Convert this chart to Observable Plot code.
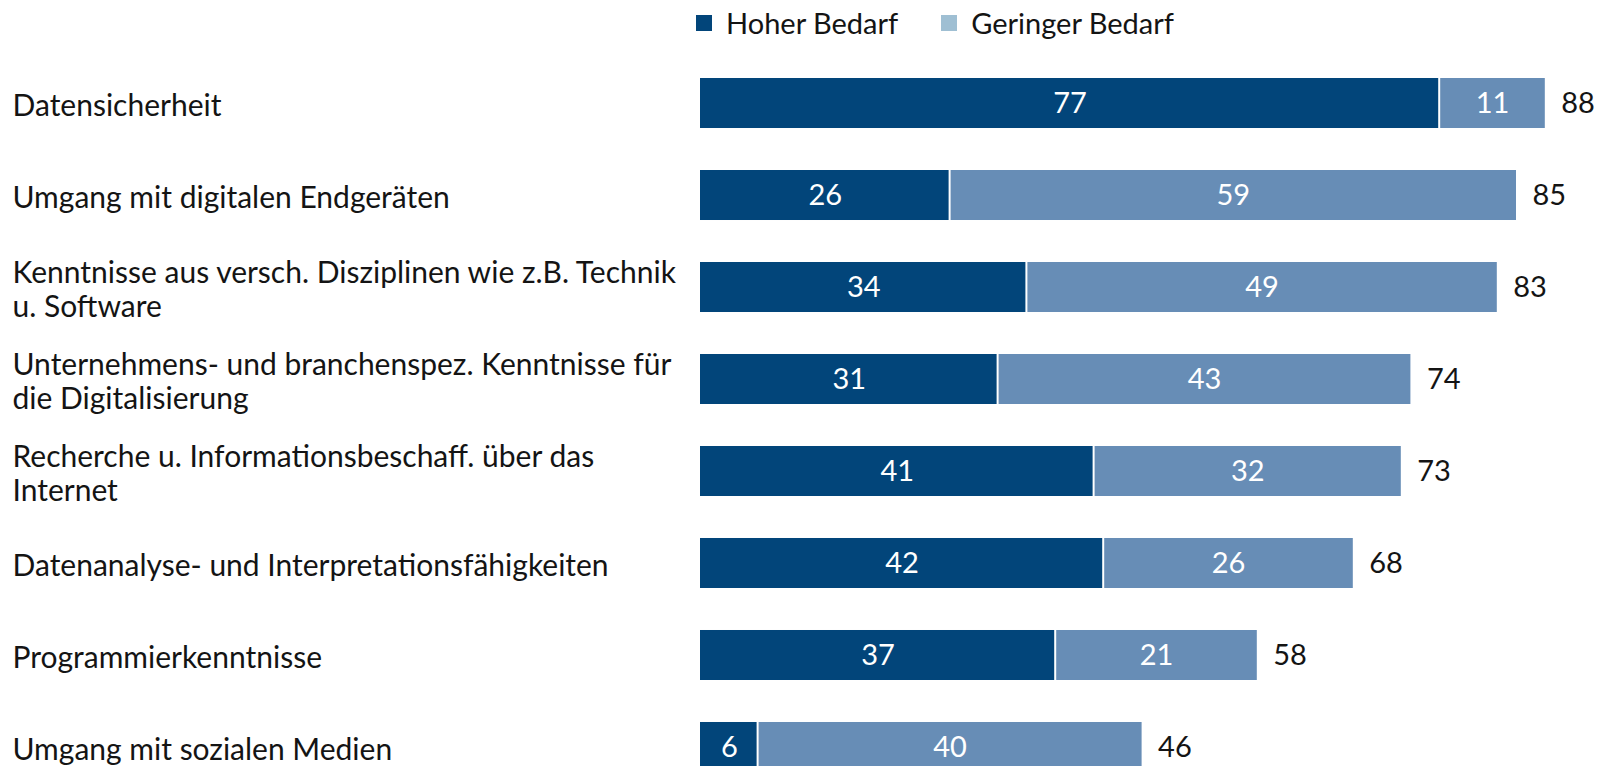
<!DOCTYPE html>
<html><head><meta charset="utf-8">
<script src="https://cdn.jsdelivr.net/npm/d3@7"></script>
<script src="https://cdn.jsdelivr.net/npm/@observablehq/plot@0.6"></script>
<style>
body{margin:0;background:#fff;font-family:Lato, sans-serif;overflow:hidden}
#wrap{position:relative;width:1604px;height:766px;overflow:hidden}
#legend{position:absolute;left:696px;top:4px;display:flex;align-items:center;font-size:29px;color:#141414;line-height:38px}
.sw{width:16px;height:16px;display:inline-block;margin-right:14px}
.item{display:flex;align-items:center;margin-right:43px}
#chart{position:absolute;left:0;top:0}
</style></head><body>
<div id="wrap"><div id="chart"></div><div id="legend"></div></div>
<script>
const categories = [
  "Datensicherheit",
  "Umgang mit digitalen Endgeräten",
  "Kenntnisse aus versch. Disziplinen wie z.B. Technik\nu. Software",
  "Unternehmens- und branchenspez. Kenntnisse für\ndie Digitalisierung",
  "Recherche u. Informationsbeschaff. über das\nInternet",
  "Datenanalyse- und Interpretationsfähigkeiten",
  "Programmierkenntnisse",
  "Umgang mit sozialen Medien"
];
const hoch = [77, 26, 34, 31, 41, 42, 37, 6];
const gering = [11, 59, 49, 43, 32, 26, 21, 40];
const totals = [88, 85, 83, 74, 73, 68, 58, 46];
const seriesNames = ["Hoher Bedarf", "Geringer Bedarf"];
const barColors = ["#02457a", "#678db6"];
const legendColors = ["#02457a", "#9fbfd3"];

const rows = categories.map((c, i) => ({cat: c, hoch: hoch[i], gering: gering[i], total: totals[i]}));

const legend = document.getElementById("legend");
seriesNames.forEach((s, i) => {
  const it = document.createElement("div"); it.className = "item";
  const sw = document.createElement("span"); sw.className = "sw"; sw.style.background = legendColors[i];
  const tx = document.createElement("span"); tx.textContent = s;
  it.appendChild(sw); it.appendChild(tx); legend.appendChild(it);
});

const textColor = "#141414";
const fs = 29;
const chart = Plot.plot({
  width: 1604,
  height: 800,
  marginLeft: 700,
  marginRight: 40,
  marginTop: 57,
  marginBottom: 7,
  style: {fontFamily: "Lato, sans-serif", fontSize: fs + "px", background: "white", overflow: "visible"},
  x: {axis: null, domain: [0, 90]},
  y: {axis: null, domain: categories, paddingInner: 0.4565, paddingOuter: 0.2283, round: false},
  marks: [
    Plot.barX(rows, {y: "cat", x1: 0, x2: "hoch", fill: barColors[0], insetRight: 1}),
    Plot.barX(rows, {y: "cat", x1: "hoch", x2: d => d.hoch + d.gering, fill: barColors[1], insetLeft: 1}),
    Plot.text(rows, {y: "cat", x: d => d.hoch / 2, text: d => String(d.hoch), fill: "white", fontSize: fs}),
    Plot.text(rows, {y: "cat", x: d => d.hoch + d.gering / 2, text: d => String(d.gering), fill: "white", fontSize: fs}),
    Plot.text(rows, {y: "cat", x: "total", text: d => String(d.total), dx: 16, textAnchor: "start", fill: textColor, fontSize: fs}),
    Plot.text(rows, {y: "cat", frameAnchor: "left", dx: -688, dy: 2, textAnchor: "start", text: "cat", lineHeight: 1.13, fill: textColor, fontSize: 30})
  ]
});
document.getElementById("chart").appendChild(chart);
</script>
</body></html>
